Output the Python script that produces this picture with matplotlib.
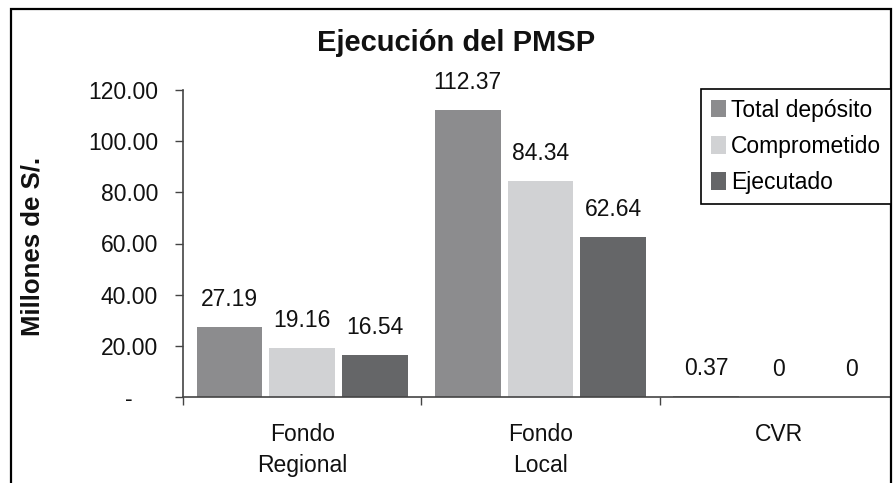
import matplotlib
matplotlib.use("Agg")
import matplotlib.pyplot as plt
from matplotlib.patches import Rectangle
from matplotlib.ticker import FixedLocator, FuncFormatter
import numpy as np

plt.rcParams['font.family'] = ['Liberation Sans', 'DejaVu Sans']

categories = ["Fondo\nRegional", "Fondo\nLocal", "CVR"]
series_names = ["Total depósito", "Comprometido", "Ejecutado"]
total_deposito = [27.19, 112.37, 0.37]
comprometido = [19.16, 84.34, 0.0]
ejecutado = [16.54, 62.64, 0.0]
yticks = [0, 20, 40, 60, 80, 100, 120]
colors = ["#8c8c8e", "#d1d2d4", "#656668"]

W, H = 895, 483
fig = plt.figure(figsize=(W / 100, H / 100), dpi=100)
ax = fig.add_axes([183 / W, 1 - 397 / H, (891 - 183) / W, (397 - 90) / H])

x = np.arange(len(categories))
width = 0.275
step = 0.305
series = [total_deposito, comprometido, ejecutado]
for i, (vals, name, col) in enumerate(zip(series, series_names, colors)):
    pos = x + (i - 1) * step
    bars = ax.bar(pos, vals, width=width, color=col, label=name, zorder=2)
    for b, v in zip(bars, vals):
        lab = "0" if v == 0 else f"{v:.2f}"
        ax.annotate(lab, (b.get_x() + b.get_width() / 2, v),
                    xytext=(0, 11.5), textcoords="offset points",
                    ha="center", va="bottom", fontsize=16.5, color="#111111")

ax.set_ylim(0, 120)
ax.set_xlim(-0.5, -0.5 + (891 - 183) / 238.3)
ax.set_yticks(yticks)
ax.yaxis.set_major_formatter(FuncFormatter(lambda v, p: "-    " if v == 0 else f"{v:.2f}"))
ax.tick_params(axis="y", direction="out", length=6, width=1, pad=12,
               labelsize=16.5, color="#444444", labelcolor="#111111")

ax.set_xticks(x)
ax.set_xticklabels(categories, fontsize=16.5, color="#111111", linespacing=1.45)
ax.tick_params(axis="x", which="major", length=0, pad=19)
ax.xaxis.set_minor_locator(FixedLocator([-0.5, 0.5, 1.5, 2.5]))
ax.tick_params(axis="x", which="minor", direction="out", length=6, width=1, color="#444444")

for s in ["top", "right"]:
    ax.spines[s].set_visible(False)
for s in ["left", "bottom"]:
    ax.spines[s].set_color("#444444")
    ax.spines[s].set_linewidth(1.2)
ax.spines["bottom"].set_zorder(3)

fig.text(456 / W, 1 - 43 / H, "Ejecución del PMSP", ha="center", va="center",
         fontsize=21, fontweight="bold", color="#111111")
fig.text(33 / W, 1 - 246 / H, "Millones de S/.", ha="center", va="center",
         rotation=90, fontsize=18.5, fontweight="bold", color="#111111")

leg = fig.legend(loc="upper right", bbox_to_anchor=(891 / W, 1 - 89 / H),
                 bbox_transform=fig.transFigure, fontsize=16.5, frameon=True,
                 fancybox=False, edgecolor="black", framealpha=1,
                 handlelength=0.65, handleheight=0.8, handletextpad=0.25,
                 labelspacing=0.58, borderpad=0.42, borderaxespad=0)
leg.get_frame().set_linewidth(1.2)

fig.patches.append(Rectangle((11 / W, -0.1), (891 - 11) / W, 1.1 - 9 / H,
                             transform=fig.transFigure, fill=False,
                             edgecolor="black", linewidth=1.6))

fig.savefig("out.png", dpi=100)
